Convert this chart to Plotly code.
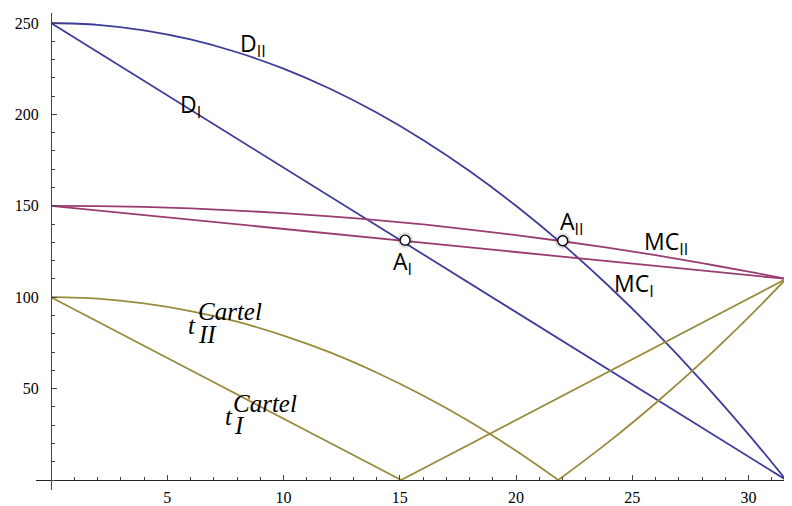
import plotly.graph_objects as go

# values
x_line = [0, 31.62]
d1_y = [250, 0]
mc1_y = [150, 110]
t1_x = [0, 15.06, 31.62]
t1_y = [100, 0, 110]

x_curve = [0, 2, 4, 6, 8, 10, 12, 14, 16, 18, 20, 22, 24, 26, 28, 30, 31.62]
d2_y = [250, 249, 246, 241, 234, 225, 214, 201, 186, 169, 150, 129, 106, 81, 54, 25, 0]
mc2_y = [150, 149.8, 149.4, 148.6, 147.4, 146, 144.2, 142.2, 139.8, 137, 134,
         130.6, 127, 123, 118.6, 114, 110]
t2_x = [0, 2, 4, 6, 8, 10, 12, 14, 16, 18, 20, 21.82, 24, 26, 28, 30, 31.62]
t2_y = [100, 99.2, 96.6, 92.4, 86.6, 79, 69.8, 58.8, 46.2, 32, 16, 0, 21, 42, 64.6, 89, 110]
t2_min = 11  # index of the corner where t_II touches zero

pts_x = [15.23, 22.01]
pts_y = [131.2, 130.9]

x_ticks = [5, 10, 15, 20, 25, 30]
y_ticks = [50, 100, 150, 200, 250]

BLUE = "#3d3d99"
PURPLE = "#993d71"
OLIVE = "#998b3d"

# the page puts the figure 8px in from the top-left corner
OFF = 8
W, H = 792 - OFF, 506 - OFF
PL, PR, PT, PB = 36, 790, 13, 490   # plot area in page pixels
X0, X1 = -0.645, 31.785
Y0, Y1 = -5.47, 255.47


def to_data(px, py):
    # page pixel position -> data coordinates
    fx = (px - PL) / (PR - PL)
    fy = (PB - py) / (PB - PT)
    return X0 + fx * (X1 - X0), Y0 + fy * (Y1 - Y0)


fig = go.Figure()
lw = 1.8
fig.add_trace(go.Scatter(x=x_line, y=d1_y, mode="lines", line=dict(color=BLUE, width=lw)))
fig.add_trace(go.Scatter(x=x_curve, y=d2_y, mode="lines",
                         line=dict(color=BLUE, width=lw, shape="spline")))
fig.add_trace(go.Scatter(x=x_line, y=mc1_y, mode="lines", line=dict(color=PURPLE, width=lw)))
fig.add_trace(go.Scatter(x=x_curve, y=mc2_y, mode="lines",
                         line=dict(color=PURPLE, width=lw, shape="spline")))
fig.add_trace(go.Scatter(x=t1_x, y=t1_y, mode="lines", line=dict(color=OLIVE, width=lw)))
fig.add_trace(go.Scatter(x=t2_x[:t2_min + 1], y=t2_y[:t2_min + 1], mode="lines",
                         line=dict(color=OLIVE, width=lw, shape="spline")))
fig.add_trace(go.Scatter(x=t2_x[t2_min:], y=t2_y[t2_min:], mode="lines",
                         line=dict(color=OLIVE, width=lw, shape="spline")))

# soft halo + open points
fig.add_trace(go.Scatter(x=pts_x, y=pts_y, mode="markers",
                         marker=dict(size=16, color="rgba(0,0,0,0.12)", line=dict(width=0))))
fig.add_trace(go.Scatter(x=pts_x, y=pts_y, mode="markers",
                         marker=dict(size=10, color="white", line=dict(color="black", width=1.4))))

sans = dict(family="Open Sans", size=23, color="black")
serif = dict(family="Liberation Serif", size=25, color="black")

labels = [
    ("D<sub>II</sub>", 239, 44, sans),
    ("D<sub>I</sub>", 179, 105, sans),
    ("A<sub>II</sub>", 559, 222, sans),
    ("A<sub>I</sub>", 392, 262, sans),
    ("MC<sub>II</sub>", 643, 242, sans),
    ("MC<sub>I</sub>", 613, 284, sans),
    ("<i>t</i>", 187, 325, serif),
    ("<i>II</i>", 197, 334, serif),
    ("<i>Cartel</i>", 197, 311, serif),
    ("<i>t</i>", 224, 416, serif),
    ("<i>I</i>", 233, 425, serif),
    ("<i>Cartel</i>", 232, 403, serif),
]
for text, px, py, font in labels:
    ax, ay = to_data(px, py)
    fig.add_annotation(x=ax, y=ay, text=text, showarrow=False, xanchor="left",
                       yanchor="middle", font=font, borderpad=0)

axis_col = "#444444"
tick_font = dict(family="Liberation Serif", size=16, color="black")

fig.update_xaxes(
    range=[X0, X1], anchor="free", position=-Y0 / (Y1 - Y0),
    showgrid=False, zeroline=False, showline=True, linecolor="#222222", linewidth=1,
    tickmode="array", tickvals=x_ticks, ticks="inside", ticklen=5, tickcolor=axis_col,
    tickfont=tick_font, ticklabelstandoff=3, automargin=False,
    minor=dict(tickmode="linear", tick0=0, dtick=1, ticks="inside", ticklen=3, tickcolor=axis_col),
)
fig.update_yaxes(
    range=[Y0, Y1], anchor="free", position=-X0 / (X1 - X0),
    showgrid=False, zeroline=False, showline=True, linecolor=axis_col, linewidth=1,
    tickmode="array", tickvals=y_ticks, ticks="inside", ticklen=5, tickcolor=axis_col,
    tickfont=tick_font, ticklabelstandoff=9, automargin=False,
    minor=dict(tickmode="linear", tick0=0, dtick=10, ticks="inside", ticklen=3, tickcolor=axis_col),
)

fig.update_layout(
    width=W, height=H,
    margin=dict(l=PL - OFF, r=792 - PR, t=PT - OFF, b=506 - PB),
    plot_bgcolor="white", paper_bgcolor="white",
    showlegend=False,
)

fig.write_html("out.html")
